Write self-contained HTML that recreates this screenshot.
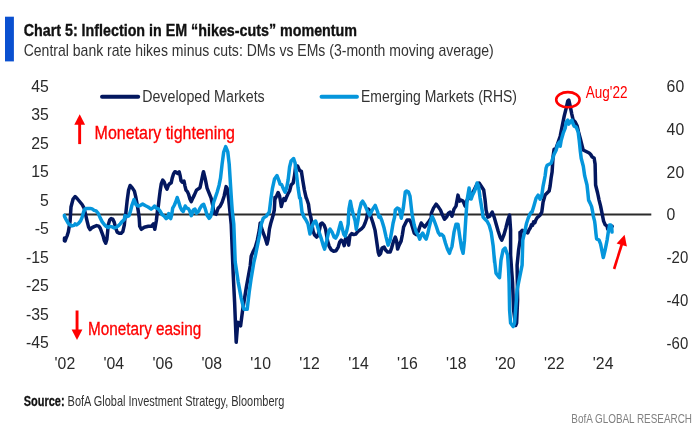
<!DOCTYPE html>
<html><head><meta charset="utf-8"><title>Chart 5: Inflection in EM hikes-cuts momentum</title>
<style>
html,body{margin:0;padding:0;background:#fff;}
svg{display:block;}
text{font-family:'Liberation Sans', Arial, sans-serif;}
</style></head>
<body>
<svg width="700" height="428" viewBox="0 0 700 428">
<rect width="700" height="428" fill="#fff"/>
<rect x="5" y="16.7" width="8.9" height="44.7" fill="#0a50d0"/>
<text x="23.7" y="36" font-size="16" fill="#111" font-weight="bold" text-anchor="start" textLength="333.3" lengthAdjust="spacingAndGlyphs" stroke="#111" stroke-width="0.35">Chart 5: Inflection in EM “hikes-cuts” momentum</text>
<text x="23.7" y="56" font-size="17" fill="#333" font-weight="normal" text-anchor="start" textLength="470.1" lengthAdjust="spacingAndGlyphs">Central bank rate hikes minus cuts: DMs vs EMs (3-month moving average)</text>
<line x1="102" y1="96.8" x2="138.2" y2="96.8" stroke="#03175f" stroke-width="3.9" stroke-linecap="round"/>
<text x="142.2" y="101.6" font-size="17.4" fill="#333" font-weight="normal" text-anchor="start" textLength="122.5" lengthAdjust="spacingAndGlyphs">Developed Markets</text>
<line x1="321.5" y1="96.7" x2="357" y2="96.7" stroke="#0596dc" stroke-width="3.9" stroke-linecap="round"/>
<text x="361" y="101.6" font-size="17.4" fill="#333" font-weight="normal" text-anchor="start" textLength="156.0" lengthAdjust="spacingAndGlyphs">Emerging Markets (RHS)</text>
<g transform="translate(48.90,91.53) scale(0.930,1)"><text x="0" y="0" font-size="17" fill="#2a2a2a" font-weight="normal" text-anchor="end">45</text></g>
<g transform="translate(48.90,120.08) scale(0.930,1)"><text x="0" y="0" font-size="17" fill="#2a2a2a" font-weight="normal" text-anchor="end">35</text></g>
<g transform="translate(48.90,148.62) scale(0.930,1)"><text x="0" y="0" font-size="17" fill="#2a2a2a" font-weight="normal" text-anchor="end">25</text></g>
<g transform="translate(48.90,177.18) scale(0.930,1)"><text x="0" y="0" font-size="17" fill="#2a2a2a" font-weight="normal" text-anchor="end">15</text></g>
<g transform="translate(48.90,205.72) scale(0.930,1)"><text x="0" y="0" font-size="17" fill="#2a2a2a" font-weight="normal" text-anchor="end">5</text></g>
<g transform="translate(48.90,234.28) scale(0.930,1)"><text x="0" y="0" font-size="17" fill="#2a2a2a" font-weight="normal" text-anchor="end">-5</text></g>
<g transform="translate(48.90,262.82) scale(0.930,1)"><text x="0" y="0" font-size="17" fill="#2a2a2a" font-weight="normal" text-anchor="end">-15</text></g>
<g transform="translate(48.90,291.38) scale(0.930,1)"><text x="0" y="0" font-size="17" fill="#2a2a2a" font-weight="normal" text-anchor="end">-25</text></g>
<g transform="translate(48.90,319.93) scale(0.930,1)"><text x="0" y="0" font-size="17" fill="#2a2a2a" font-weight="normal" text-anchor="end">-35</text></g>
<g transform="translate(48.90,348.48) scale(0.930,1)"><text x="0" y="0" font-size="17" fill="#2a2a2a" font-weight="normal" text-anchor="end">-45</text></g>
<g transform="translate(666.60,91.95) scale(0.930,1)"><text x="0" y="0" font-size="17" fill="#2a2a2a" font-weight="normal" text-anchor="start">60</text></g>
<g transform="translate(666.60,134.77) scale(0.930,1)"><text x="0" y="0" font-size="17" fill="#2a2a2a" font-weight="normal" text-anchor="start">40</text></g>
<g transform="translate(666.60,177.58) scale(0.930,1)"><text x="0" y="0" font-size="17" fill="#2a2a2a" font-weight="normal" text-anchor="start">20</text></g>
<g transform="translate(666.60,220.40) scale(0.930,1)"><text x="0" y="0" font-size="17" fill="#2a2a2a" font-weight="normal" text-anchor="start">0</text></g>
<g transform="translate(666.60,263.22) scale(0.880,1)"><text x="0" y="0" font-size="17" fill="#2a2a2a" font-weight="normal" text-anchor="start">-20</text></g>
<g transform="translate(666.60,306.03) scale(0.880,1)"><text x="0" y="0" font-size="17" fill="#2a2a2a" font-weight="normal" text-anchor="start">-40</text></g>
<g transform="translate(666.60,348.85) scale(0.880,1)"><text x="0" y="0" font-size="17" fill="#2a2a2a" font-weight="normal" text-anchor="start">-60</text></g>
<g transform="translate(64.90,368.70) scale(0.930,1)"><text x="0" y="0" font-size="17" fill="#2a2a2a" font-weight="normal" text-anchor="middle">'02</text></g>
<g transform="translate(113.83,368.70) scale(0.930,1)"><text x="0" y="0" font-size="17" fill="#2a2a2a" font-weight="normal" text-anchor="middle">'04</text></g>
<g transform="translate(162.76,368.70) scale(0.930,1)"><text x="0" y="0" font-size="17" fill="#2a2a2a" font-weight="normal" text-anchor="middle">'06</text></g>
<g transform="translate(211.69,368.70) scale(0.930,1)"><text x="0" y="0" font-size="17" fill="#2a2a2a" font-weight="normal" text-anchor="middle">'08</text></g>
<g transform="translate(260.62,368.70) scale(0.930,1)"><text x="0" y="0" font-size="17" fill="#2a2a2a" font-weight="normal" text-anchor="middle">'10</text></g>
<g transform="translate(309.55,368.70) scale(0.930,1)"><text x="0" y="0" font-size="17" fill="#2a2a2a" font-weight="normal" text-anchor="middle">'12</text></g>
<g transform="translate(358.48,368.70) scale(0.930,1)"><text x="0" y="0" font-size="17" fill="#2a2a2a" font-weight="normal" text-anchor="middle">'14</text></g>
<g transform="translate(407.41,368.70) scale(0.930,1)"><text x="0" y="0" font-size="17" fill="#2a2a2a" font-weight="normal" text-anchor="middle">'16</text></g>
<g transform="translate(456.34,368.70) scale(0.930,1)"><text x="0" y="0" font-size="17" fill="#2a2a2a" font-weight="normal" text-anchor="middle">'18</text></g>
<g transform="translate(505.27,368.70) scale(0.930,1)"><text x="0" y="0" font-size="17" fill="#2a2a2a" font-weight="normal" text-anchor="middle">'20</text></g>
<g transform="translate(554.20,368.70) scale(0.930,1)"><text x="0" y="0" font-size="17" fill="#2a2a2a" font-weight="normal" text-anchor="middle">'22</text></g>
<g transform="translate(603.13,368.70) scale(0.930,1)"><text x="0" y="0" font-size="17" fill="#2a2a2a" font-weight="normal" text-anchor="middle">'24</text></g>
<line x1="64.2" y1="214.5" x2="651.3" y2="214.5" stroke="#2b2b2b" stroke-width="1.8"/>
<path d="M64.4,240.7 L64.5,238.0 L65.0,241.1 L66.2,237.9 L67.2,235.6 L68.3,232.1 L69.3,226.0 L70.1,221.0 L71.0,207.0 L73.1,199.0 L75.1,196.5 L77.1,198.5 L79.6,201.5 L82.1,204.5 L84.1,208.1 L85.6,214.6 L87.1,221.1 L88.6,227.1 L90.1,229.6 L92.1,227.6 L94.1,226.6 L96.6,225.6 L98.7,226.1 L100.2,228.1 L101.7,232.1 L103.2,236.2 L104.2,240.2 L105.7,243.2 L106.9,239.2 L107.7,231.1 L108.2,225.1 L109.7,220.1 L111.2,218.6 L112.7,219.1 L114.2,222.1 L115.7,228.1 L117.2,232.1 L119.2,233.2 L121.2,233.2 L122.8,231.6 L124.3,225.1 L125.3,215.1 L125.6,215.2 L127.1,201.1 L128.6,190.1 L130.1,185.5 L132.1,187.6 L134.4,191.1 L135.7,196.6 L137.0,203.6 L138.2,210.6 L139.2,218.0 L139.7,226.3 L141.3,229.3 L144.3,227.3 L148.4,226.3 L151.4,226.3 L153.4,223.9 L154.8,229.3 L156.4,220.2 L158.0,206.2 L158.1,208.0 L159.1,199.1 L160.1,191.1 L161.3,183.6 L162.7,180.1 L164.2,182.1 L165.7,186.6 L167.0,189.1 L168.2,185.6 L169.7,183.6 L171.2,182.9 L172.2,178.1 L173.5,174.0 L174.9,171.8 L176.4,172.2 L177.7,173.5 L179.2,171.8 L180.2,176.0 L181.0,180.6 L182.2,182.1 L184.0,181.1 L185.0,186.1 L186.0,190.1 L187.4,191.6 L188.5,194.1 L189.8,198.6 L191.3,201.6 L192.8,198.1 L194.3,195.1 L196.5,190.1 L200.0,187.7 L201.0,183.2 L203.1,173.1 L203.5,171.7 L205.1,178.2 L207.1,188.2 L209.1,193.2 L211.1,198.2 L212.5,204.3 L214.1,213.3 L216.1,214.3 L218.1,208.3 L220.1,206.3 L222.1,202.2 L224.1,196.2 L226.1,186.6 L227.1,188.2 L228.6,198.2 L229.8,210.3 L231.2,224.3 L233.2,274.0 L234.6,302.2 L236.2,342.3 L237.8,322.2 L240.6,325.9 L242.6,310.2 L246.2,288.1 L250.2,266.0 L251.2,256.2 L253.3,251.2 L255.3,247.2 L257.3,240.2 L259.3,230.1 L260.2,223.0 L262.2,230.1 L265.2,238.1 L267.0,244.1 L268.2,239.1 L269.4,229.1 L270.7,223.5 L272.2,218.5 L273.2,215.0 L274.3,210.0 L275.0,197.2 L275.1,199.0 L276.6,196.0 L278.1,192.5 L279.6,196.0 L280.6,202.0 L281.3,206.6 L282.6,201.5 L283.9,198.5 L285.1,200.5 L286.3,197.5 L287.9,194.0 L289.6,191.0 L291.1,185.1 L293.1,183.1 L294.6,175.1 L295.7,165.5 L297.7,166.2 L299.7,170.6 L301.4,171.4 L302.7,180.1 L304.4,190.1 L306.2,198.0 L306.5,198.2 L308.5,204.3 L309.5,212.0 L311.0,218.0 L312.0,225.1 L313.1,231.1 L314.6,235.1 L316.6,237.1 L318.1,235.1 L319.6,229.1 L320.6,224.0 L322.1,223.0 L324.1,225.1 L325.6,229.1 L326.6,235.1 L327.6,241.1 L329.1,246.1 L331.1,249.7 L333.6,251.2 L336.1,250.7 L338.2,247.1 L339.7,242.1 L341.2,240.1 L342.7,241.1 L344.2,245.6 L345.7,238.1 L347.2,238.1 L348.7,245.1 L349.9,235.6 L351.7,233.6 L353.7,234.6 L355.7,234.1 L357.7,231.6 L359.7,230.1 L361.7,228.6 L363.5,226.6 L365.1,223.0 L366.8,218.0 L368.1,209.0 L369.2,210.1 L370.5,213.4 L371.0,217.0 L373.0,223.0 L375.0,230.1 L376.2,238.1 L377.2,245.1 L378.2,252.1 L379.2,255.2 L380.5,253.7 L382.0,248.1 L384.1,247.1 L385.6,250.1 L387.6,252.1 L390.1,252.1 L391.6,248.1 L393.6,241.1 L395.3,237.1 L396.6,241.1 L397.6,249.1 L399.1,245.1 L401.1,241.1 L402.3,235.1 L403.6,227.0 L405.1,224.0 L407.1,220.0 L409.7,220.0 L411.2,223.0 L412.7,228.1 L414.2,233.1 L416.2,234.6 L418.2,231.6 L419.7,227.0 L421.2,223.0 L422.7,225.0 L424.7,227.0 L426.2,225.0 L427.7,223.0 L429.2,221.0 L431.2,218.0 L431.4,213.1 L433.5,208.1 L436.1,204.1 L438.5,207.1 L440.5,210.1 L442.5,215.1 L444.5,219.2 L446.5,217.1 L448.5,213.1 L450.0,212.1 L452.0,216.1 L454.0,209.1 L456.0,206.1 L458.0,195.1 L459.6,201.1 L461.0,200.1 L463.1,201.1 L465.1,206.1 L467.1,200.1 L469.1,198.1 L471.1,195.1 L473.1,192.0 L475.1,188.0 L477.1,184.0 L479.1,183.0 L481.1,186.0 L483.7,190.0 L485.1,200.1 L486.1,210.1 L487.8,217.1 L489.8,216.1 L492.2,212.1 L494.2,217.1 L496.2,224.2 L498.2,231.2 L500.2,237.2 L501.8,240.2 L503.8,235.2 L505.8,228.2 L507.8,220.2 L509.6,215.1 L510.6,230.2 L510.6,255.1 L511.6,270.1 L512.6,283.0 L513.6,310.1 L515.6,325.6 L516.6,323.1 L517.6,300.0 L517.1,265.1 L518.6,250.0 L520.1,240.0 L520.0,232.3 L520.2,240.0 L521.2,231.6 L522.2,230.3 L524.8,231.6 L527.8,232.9 L529.1,229.7 L530.4,227.7 L531.4,224.8 L532.5,225.4 L533.6,221.8 L534.9,222.8 L535.9,219.8 L537.2,217.6 L538.5,216.6 L540.2,214.9 L541.2,213.3 L541.8,212.0 L543.1,202.1 L545.1,195.1 L547.1,193.1 L549.1,191.1 L550.1,186.1 L551.1,178.0 L552.1,172.0 L553.1,156.3 L554.1,149.2 L556.1,148.2 L558.2,142.2 L560.2,136.2 L562.2,126.1 L564.2,116.1 L566.2,108.1 L567.8,101.0 L568.8,100.0 L570.2,106.1 L571.8,114.1 L573.2,120.1 L575.2,122.1 L577.2,126.1 L578.6,132.2 L580.2,138.2 L582.2,146.2 L583.2,150.0 L585.2,151.0 L587.2,152.0 L589.2,153.0 L590.7,154.5 L592.2,157.0 L594.1,158.0 L595.1,164.1 L595.6,185.0 L597.6,193.0 L599.1,200.1 L600.6,206.1 L601.6,211.1 L602.6,216.1 L603.6,221.1 L605.1,224.7 L607.1,226.2 L607.7,229.1 L610.2,227.1 L612.2,226.3" fill="none" stroke="#03175f" stroke-width="3.5" stroke-linejoin="round" stroke-linecap="round"/>
<path d="M64.4,215.2 L64.5,216.4 L66.0,219.4 L68.0,222.9 L70.0,224.9 L72.0,225.9 L74.1,225.4 L75.1,223.9 L76.6,224.9 L78.6,223.4 L80.6,220.9 L82.1,217.4 L83.6,211.9 L85.1,208.9 L87.1,208.4 L90.1,208.4 L92.1,208.9 L94.1,210.4 L96.1,210.9 L98.2,213.4 L100.2,217.9 L102.2,221.9 L104.2,224.4 L106.2,226.4 L108.2,227.4 L110.2,226.4 L112.2,226.9 L114.2,227.9 L116.2,227.4 L118.2,225.9 L120.2,223.9 L122.2,221.4 L124.3,219.4 L125.0,215.6 L127.0,216.6 L129.0,215.6 L130.5,211.1 L132.0,205.0 L134.0,199.5 L136.0,204.5 L138.1,206.0 L140.1,205.5 L142.6,204.0 L145.1,205.5 L148.1,207.0 L151.1,209.1 L153.1,207.6 L154.6,206.0 L156.1,208.1 L158.1,208.6 L160.1,211.1 L162.1,214.6 L164.2,216.1 L166.2,218.6 L167.7,217.6 L168.7,213.6 L169.7,216.1 L170.7,218.6 L171.7,215.1 L172.7,208.1 L174.2,205.5 L175.7,202.0 L177.2,197.5 L178.7,202.0 L180.2,207.0 L181.7,210.1 L183.2,211.6 L185.2,206.0 L186.7,208.1 L188.3,208.6 L189.8,211.1 L191.3,215.6 L193.3,210.1 L195.0,209.1 L196.5,213.2 L198.6,211.2 L200.0,208.2 L202.0,205.3 L203.7,204.3 L205.1,208.3 L207.1,215.3 L209.1,218.3 L210.7,216.3 L212.1,210.3 L213.7,202.2 L215.1,198.2 L217.1,192.2 L219.1,185.2 L220.5,178.2 L222.1,164.1 L223.7,152.0 L225.7,146.6 L227.8,152.0 L229.2,164.1 L230.2,180.2 L231.2,196.2 L232.2,210.3 L233.8,224.3 L235.2,262.0 L238.2,282.1 L241.2,298.1 L243.8,309.2 L247.2,309.2 L249.2,292.1 L251.2,278.1 L253.9,262.0 L255.3,256.2 L257.3,246.2 L259.3,236.1 L261.3,224.1 L263.3,218.1 L266.3,216.1 L269.3,212.0 L271.0,198.0 L272.5,188.1 L274.5,179.1 L277.0,175.6 L279.1,181.1 L280.1,184.1 L281.6,184.6 L283.1,188.1 L285.1,192.1 L286.6,188.1 L288.1,180.1 L289.6,167.0 L291.1,161.0 L293.6,158.5 L295.1,163.0 L296.6,175.1 L298.1,188.1 L299.6,198.0 L300.4,198.2 L302.0,212.0 L304.0,217.0 L306.0,220.0 L308.0,224.0 L309.2,230.1 L310.0,234.1 L311.2,230.1 L312.6,225.1 L314.1,222.0 L315.6,221.0 L317.1,225.1 L319.1,232.1 L321.1,238.1 L323.1,245.1 L324.6,249.1 L326.6,241.1 L328.6,232.1 L330.1,229.1 L332.1,232.1 L334.1,237.1 L335.6,238.1 L337.7,234.1 L339.7,226.1 L340.7,222.5 L342.2,228.1 L343.7,234.1 L345.2,236.1 L346.7,231.1 L348.2,224.0 L348.5,216.1 L349.0,208.7 L350.4,201.2 L351.8,208.7 L353.2,214.3 L355.1,220.8 L356.3,229.3 L357.9,220.8 L359.3,210.6 L361.2,203.1 L362.6,201.2 L364.9,205.0 L367.2,210.6 L369.6,215.2 L372.4,209.6 L375.2,205.4 L377.5,211.5 L378.9,217.1 L380.0,216.0 L382.0,221.0 L384.1,228.1 L386.1,237.1 L388.1,245.1 L390.1,240.1 L391.6,232.1 L393.1,223.0 L394.6,217.0 L395.3,210.1 L397.3,208.1 L399.3,209.1 L401.3,218.2 L403.3,208.1 L405.3,192.0 L406.7,191.0 L408.4,192.0 L410.0,196.1 L411.6,210.1 L412.2,215.0 L414.2,225.0 L416.2,232.1 L418.2,235.1 L419.7,239.1 L421.2,235.1 L422.7,233.1 L424.7,237.1 L426.2,239.1 L427.7,234.1 L429.2,227.0 L430.7,221.0 L432.2,216.5 L434.3,221.0 L436.3,226.5 L438.3,232.6 L440.0,235.1 L441.5,234.2 L443.5,236.2 L445.5,243.3 L447.5,249.3 L449.5,253.3 L450.0,251.3 L452.0,246.3 L454.0,232.2 L456.0,224.2 L458.0,224.2 L460.0,238.2 L461.6,248.3 L463.1,253.3 L464.5,240.2 L465.7,220.2 L467.1,200.1 L469.1,188.0 L471.1,199.1 L472.5,195.1 L474.1,192.0 L475.7,188.0 L477.1,183.0 L478.5,186.0 L480.1,198.1 L482.1,210.1 L483.1,217.1 L485.1,219.2 L487.1,221.2 L489.2,225.2 L491.2,232.2 L493.2,246.3 L494.6,262.3 L494.0,255.1 L496.0,273.1 L499.0,277.1 L499.5,277.7 L501.0,260.1 L503.1,250.0 L505.1,248.0 L507.6,255.1 L508.6,270.1 L509.1,283.0 L509.6,310.1 L510.6,323.1 L513.1,326.6 L514.6,323.1 L515.6,310.1 L517.1,290.0 L522.1,265.1 L522.8,240.0 L524.8,231.6 L526.4,223.8 L528.1,218.5 L530.0,214.0 L531.4,212.0 L532.0,212.2 L534.1,205.2 L536.1,198.1 L538.1,195.1 L540.1,199.1 L541.7,196.1 L543.1,186.1 L545.1,176.0 L546.1,168.0 L547.1,165.3 L549.1,164.3 L551.1,163.3 L552.1,160.3 L554.1,154.3 L556.1,150.2 L557.8,144.2 L559.2,142.2 L560.2,146.2 L561.2,140.2 L563.2,133.2 L565.2,128.2 L566.2,122.1 L567.8,120.1 L568.8,124.1 L570.2,122.1 L571.8,120.1 L573.2,124.1 L574.2,126.1 L576.2,127.1 L578.2,132.2 L579.2,140.2 L580.2,150.2 L581.2,158.3 L583.3,166.3 L584.7,175.9 L587.0,185.0 L587.9,193.0 L588.6,200.1 L590.1,203.1 L591.6,206.6 L592.6,211.6 L593.3,216.1 L594.6,221.1 L595.1,225.0 L595.9,233.1 L596.6,238.9 L599.1,240.1 L600.6,244.1 L603.3,257.6 L605.1,250.1 L607.1,240.1 L608.6,230.0 L609.6,225.0 L610.7,225.1 L611.7,227.1 L612.0,232.1" fill="none" stroke="#0596dc" stroke-width="3.5" stroke-linejoin="round" stroke-linecap="round"/>
<polygon points="79.7,114.3 74.3,124.7 85.1,124.7" fill="#ff0000"/>
<rect x="78.2" y="124" width="2.9" height="20.1" fill="#ff0000"/>
<text x="94.6" y="138.5" font-size="18" fill="#ff0000" font-weight="normal" text-anchor="start" textLength="140.4" lengthAdjust="spacingAndGlyphs" stroke="#ff0000" stroke-width="0.3">Monetary tightening</text>
<rect x="75.6" y="310.5" width="2.9" height="19.5" fill="#ff0000"/>
<polygon points="77,340 71.6,329.6 82.4,329.6" fill="#ff0000"/>
<text x="88" y="335" font-size="18" fill="#ff0000" font-weight="normal" text-anchor="start" textLength="113.2" lengthAdjust="spacingAndGlyphs" stroke="#ff0000" stroke-width="0.3">Monetary easing</text>
<ellipse cx="567.9" cy="99.7" rx="11.7" ry="7.6" fill="none" stroke="#ff0000" stroke-width="2.6"/>
<text x="585.8" y="98" font-size="17" fill="#ff0000" font-weight="normal" text-anchor="start" textLength="41.7" lengthAdjust="spacingAndGlyphs">Aug'22</text>
<line x1="614.1" y1="269" x2="621.9" y2="244" stroke="#ff0000" stroke-width="2.6"/>
<polygon points="624.6,234.8 616.6,243.6 626.9,246.6" fill="#ff0000"/>
<text x="23.75" y="405.5" font-size="14.5" fill="#333" textLength="260.5" lengthAdjust="spacingAndGlyphs"><tspan font-weight="bold" fill="#111" stroke="#111" stroke-width="0.3">Source:</tspan> BofA Global Investment Strategy, Bloomberg</text>
<text x="571.3" y="422.7" font-size="13.5" fill="#808080" font-weight="normal" text-anchor="start" textLength="120.7" lengthAdjust="spacingAndGlyphs">BofA GLOBAL RESEARCH</text>
</svg>
</body></html>
